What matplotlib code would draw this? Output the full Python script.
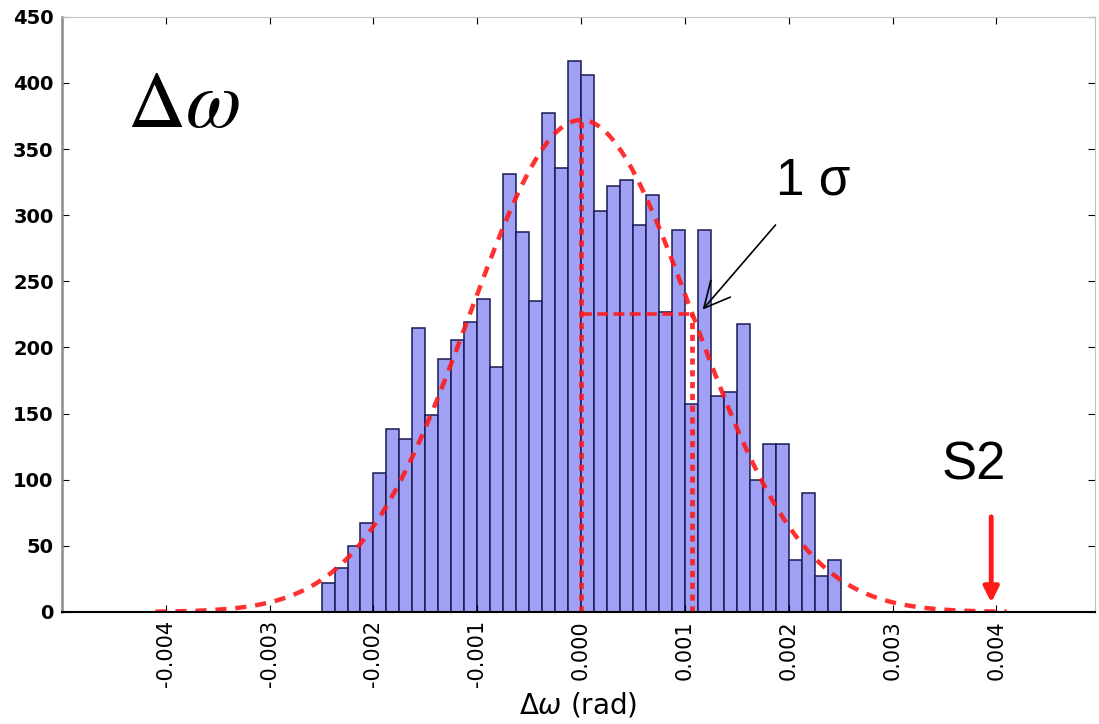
"""
Histogram of delta omega with gaussian fit
"""

import numpy as np
import matplotlib
matplotlib.use("Agg")
import matplotlib.pyplot as plt

# histogram: 40 bins from -0.0025 to 0.0025 rad
bin_start = -0.0025
bin_width = 0.000125
counts = [22, 33, 50, 67, 105, 138, 131, 215, 149, 191,
          206, 219, 237, 185, 331, 287, 235, 377, 336, 417,
          406, 303, 322, 327, 293, 315, 227, 289, 157, 289,
          163, 166, 218, 100, 127, 127, 39, 90, 27, 39]

# gaussian fit
fit_mu = 0.0
fit_sigma = 0.00107
fit_peak = 372
curve_span = (-0.0041, 0.0041)

s2_pos = 0.00395
xticks = [-0.004, -0.003, -0.002, -0.001, 0.0, 0.001, 0.002, 0.003, 0.004]
yticks = [0, 50, 100, 150, 200, 250, 300, 350, 400, 450]

red = "#ff1a1a"

fig = plt.figure(figsize=(10.99, 7.24), dpi=100)
ax = fig.add_axes([0.0564, 0.1547, 0.94, 0.822])

edges = bin_start + bin_width * np.arange(len(counts) + 1)
ax.hist(edges[:-1], bins=edges, weights=counts, color="#a0a0f4",
        edgecolor="#1a1a55", linewidth=1.1)

xs = np.linspace(curve_span[0], curve_span[1], 400)
ys = fit_peak * np.exp(-0.5 * ((xs - fit_mu) / fit_sigma) ** 2)
ax.plot(xs, ys, color=red, lw=3.2, dashes=(2.5, 2), alpha=0.9)

one_sigma = fit_peak * np.exp(-0.5)
ax.plot([fit_mu, fit_mu], [0, fit_peak], color=red, lw=3.4, dashes=(1.3, 1.2), alpha=0.9)
ax.plot([fit_mu + fit_sigma] * 2, [0, one_sigma], color=red, lw=3.4, dashes=(1.3, 1.2), alpha=0.9)
ax.plot([fit_mu, fit_mu + fit_sigma], [one_sigma, one_sigma], color=red, lw=2.6,
        dashes=(3, 1.5), alpha=0.9)

ax.text(-0.00437, 383, r"$\Delta\omega$", fontsize=58, ha="left", va="center",
        math_fontfamily="stix")

ax.annotate("1 σ", xy=(fit_mu + fit_sigma + 0.0001, one_sigma + 3),
            xytext=(0.00188, 326), fontsize=37, ha="left", va="center",
            family="Liberation Sans",
            arrowprops=dict(arrowstyle="->,head_length=0.5,head_width=0.25",
                            color="black", lw=1.2, shrinkA=16, shrinkB=0))

ax.text(0.00378, 111, "S2", fontsize=38, ha="center", va="center", color="black",
        family="Liberation Sans")
ax.annotate("", xy=(s2_pos, 5), xytext=(s2_pos, 74),
            arrowprops=dict(arrowstyle="-|>,head_length=0.9,head_width=0.45",
                            color=red, lw=3.5, fill=False))

ax.set_xlim(-0.005, 0.00495)
ax.set_ylim(0, 450)
ax.set_xticks(xticks)
ax.set_xticklabels(["%.3f" % t for t in xticks], rotation=90, fontsize=15)
ax.set_yticks(yticks)
ax.set_yticklabels([str(t) for t in yticks], fontsize=14, fontweight="bold")
ax.tick_params(direction="in", length=5, top=True, right=True, pad=6)
ax.set_xlabel(r"$\Delta\omega$ (rad)", fontsize=20, labelpad=2)

ax.spines["bottom"].set_color("black")
ax.spines["bottom"].set_linewidth(1.5)
ax.spines["left"].set_color("#8a8a8a")
ax.spines["left"].set_linewidth(1.8)
ax.spines["top"].set_color("#c0c0c0")
ax.spines["right"].set_color("#c0c0c0")

fig.savefig("out.png", dpi=100)
